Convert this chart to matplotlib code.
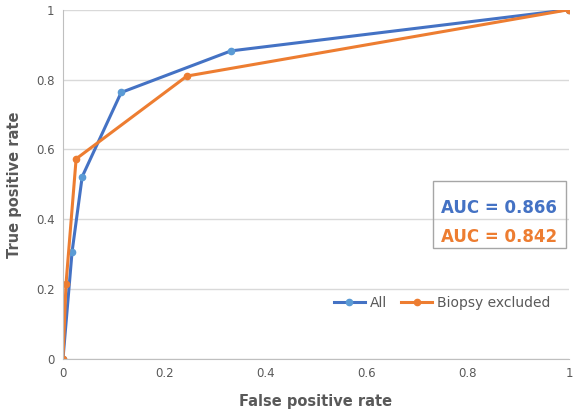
import matplotlib
matplotlib.use("Agg")
import matplotlib.pyplot as plt

all_fpr = [0, 0.018, 0.038, 0.115, 0.332, 1.0]
all_tpr = [0, 0.307, 0.522, 0.763, 0.882, 1.0]
bx_fpr = [0, 0.006, 0.026, 0.245, 1.0]
bx_tpr = [0, 0.215, 0.573, 0.81, 1.0]
blue = '#4472C4'; orange = '#ED7D31'

fig = plt.figure(figsize=(5.83, 4.2), dpi=100)
ax = fig.add_axes([0.108, 0.145, 0.868, 0.832])
ax.plot(all_fpr, all_tpr, color=blue, lw=2.2, marker='o', ms=4.5, mfc='#5B9BD5', mec='#5B9BD5', label='All')
ax.plot(bx_fpr, bx_tpr, color=orange, lw=2.2, marker='o', ms=4.5, label='Biopsy excluded')
ax.set_xlim(0, 1); ax.set_ylim(0, 1)
ticks = [0, 0.2, 0.4, 0.6, 0.8, 1]
labels = ['0', '0.2', '0.4', '0.6', '0.8', '1']
ax.set_xticks(ticks, labels); ax.set_yticks(ticks, labels)
ax.tick_params(length=0, labelsize=8.5, colors='#595959', pad=6)
ax.grid(axis='y', color='#D9D9D9', lw=1)
for s in ['top', 'right']:
    ax.spines[s].set_visible(False)
for s in ['left', 'bottom']:
    ax.spines[s].set_color('#BFBFBF')
ax.set_axisbelow(True)
ax.set_xlabel('False positive rate', fontsize=10.5, fontweight='bold', color='#595959', labelpad=10)
ax.set_ylabel('True positive rate', fontsize=10.5, fontweight='bold', color='#595959', labelpad=10)
ax.legend(loc='center', bbox_to_anchor=(0.75, 0.16), ncol=2, frameon=False, fontsize=10,
          labelcolor='#595959', handlelength=2.2, columnspacing=1.0, handletextpad=0.4)
ax.text(0.862, 0.433, 'AUC = 0.866', color=blue, fontsize=12, fontweight='bold', ha='center', va='center', transform=ax.transAxes)
ax.text(0.862, 0.35, 'AUC = 0.842', color=orange, fontsize=12, fontweight='bold', ha='center', va='center', transform=ax.transAxes)
fig.patches.append(plt.Rectangle((0.743, 0.41), 0.228, 0.159, transform=fig.transFigure, fill=False, ec='#A6A6A6', lw=1))
fig.savefig('out.png')
